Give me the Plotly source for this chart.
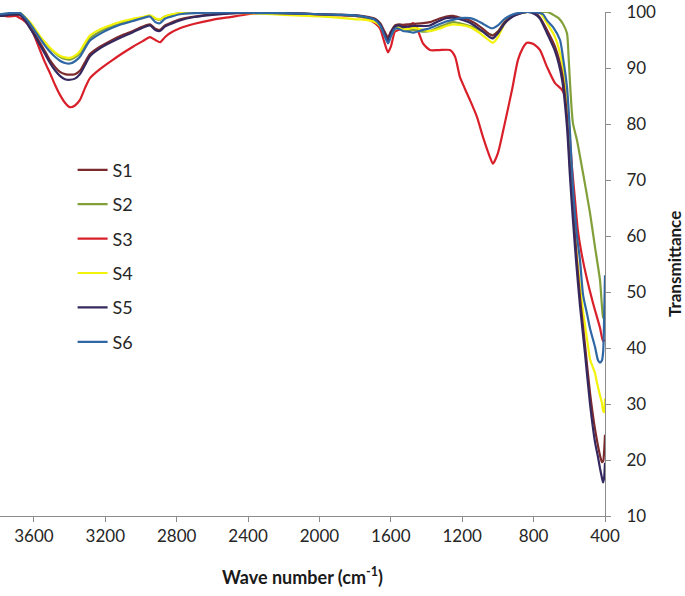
import plotly.graph_objects as go

# ---------------- data ----------------
wn_s1 = [3790, 3740, 3700, 3678, 3650, 3622, 3594, 3566, 3538, 3510, 3482, 3454, 3426, 3398, 3370, 3342, 3314, 3286, 3230, 3174, 3110, 3045, 2990, 2950, 2920, 2894, 2866, 2838, 2782, 2700, 2600, 2400, 2340, 2200, 2000, 1900, 1800, 1740, 1689, 1660, 1640, 1616, 1600, 1577, 1555, 1532, 1500, 1476, 1420, 1381, 1330, 1290, 1252, 1213, 1157, 1118, 1084, 1045, 1028, 1000, 961, 921, 888, 837, 792, 764, 725, 680, 641, 613, 596, 580, 562, 540, 512, 484, 456, 439, 428, 417, 410, 405, 400]
t_s1 = [99.3, 99.5, 99.5, 99.5, 98.6, 97.3, 96.0, 94.5, 93.0, 91.4, 90.2, 89.3, 88.9, 88.8, 88.9, 89.5, 91.0, 92.5, 93.8, 94.8, 95.8, 96.6, 97.4, 97.8, 97.0, 96.8, 97.6, 98.0, 98.7, 99.2, 99.6, 99.9, 99.9, 99.8, 99.6, 99.5, 99.4, 99.2, 98.8, 98.0, 96.8, 95.5, 96.5, 97.6, 97.8, 97.7, 97.8, 97.9, 98.0, 98.2, 98.8, 99.2, 99.3, 99.0, 98.5, 97.8, 97.0, 96.0, 95.8, 96.5, 98.2, 99.2, 99.6, 100.0, 99.8, 99.0, 96.8, 93.8, 89.1, 81.3, 72.3, 65.2, 57.5, 49.0, 40.5, 32.0, 25.5, 22.5, 20.8, 19.6, 19.8, 21.5, 24.5]

wn_s2 = [3790, 3740, 3700, 3678, 3650, 3622, 3594, 3566, 3538, 3510, 3482, 3454, 3426, 3398, 3370, 3342, 3314, 3286, 3230, 3174, 3110, 3045, 2990, 2950, 2920, 2894, 2866, 2838, 2782, 2700, 2600, 2400, 2340, 2200, 2000, 1900, 1800, 1740, 1689, 1660, 1640, 1616, 1600, 1577, 1555, 1532, 1500, 1476, 1420, 1381, 1330, 1290, 1252, 1213, 1157, 1118, 1084, 1045, 1028, 1000, 961, 921, 888, 837, 764, 725, 708, 680, 660, 636, 613, 604, 596, 580, 557, 523, 484, 456, 428, 411, 405, 400]
t_s2 = [99.6, 99.7, 99.9, 99.8, 99.0, 98.0, 96.8, 95.5, 94.5, 93.5, 92.7, 92.0, 91.6, 91.5, 91.9, 92.6, 94.0, 95.3, 96.5, 97.3, 98.0, 98.6, 99.0, 99.3, 98.8, 98.6, 99.2, 99.4, 99.8, 99.9, 100.0, 100.0, 99.9, 99.8, 99.6, 99.5, 99.3, 99.0, 98.6, 97.8, 96.5, 95.3, 96.0, 97.2, 97.3, 97.0, 96.8, 96.8, 96.5, 96.6, 97.3, 97.8, 98.2, 98.0, 97.5, 97.0, 96.5, 96.0, 95.9, 96.5, 98.3, 99.3, 99.7, 100.0, 100.0, 100.0, 99.8, 99.3, 98.9, 97.9, 96.2, 92.0, 87.3, 80.2, 77.1, 71.2, 64.1, 58.0, 52.1, 45.5, 45.2, 48.0]

wn_s3 = [3790, 3740, 3700, 3678, 3650, 3622, 3594, 3566, 3538, 3510, 3482, 3454, 3426, 3398, 3370, 3342, 3314, 3286, 3230, 3174, 3110, 3045, 2990, 2950, 2920, 2894, 2866, 2838, 2782, 2700, 2600, 2500, 2400, 2340, 2200, 2000, 1900, 1800, 1740, 1689, 1660, 1640, 1616, 1600, 1577, 1555, 1532, 1500, 1476, 1455, 1420, 1381, 1330, 1269, 1240, 1213, 1185, 1157, 1118, 1084, 1045, 1028, 1000, 961, 921, 888, 860, 837, 810, 792, 764, 725, 680, 641, 613, 596, 585, 568, 552, 529, 501, 467, 428, 411, 400]
t_s3 = [99.5, 99.2, 99.3, 98.9, 98.3, 97.3, 95.5, 93.2, 91.0, 89.1, 87.0, 85.2, 83.8, 83.0, 83.3, 84.3, 86.4, 88.2, 89.8, 91.1, 92.5, 93.8, 94.8, 95.5, 95.0, 94.6, 95.5, 96.2, 97.1, 97.9, 98.6, 99.1, 99.6, 99.8, 99.7, 99.5, 99.4, 99.3, 98.9, 98.0, 97.0, 95.0, 92.8, 93.8, 96.5, 96.8, 97.5, 97.4, 98.0, 97.2, 94.4, 93.2, 93.2, 93.2, 92.0, 88.4, 86.3, 84.3, 81.3, 77.7, 74.1, 72.9, 74.8, 80.2, 86.1, 91.4, 93.6, 94.5, 94.4, 94.1, 93.2, 90.2, 87.3, 86.1, 83.8, 77.1, 72.3, 66.4, 61.0, 56.5, 52.3, 48.0, 43.6, 41.2, 41.5]

wn_s4 = [3790, 3740, 3700, 3678, 3650, 3622, 3594, 3566, 3538, 3510, 3482, 3454, 3426, 3398, 3370, 3342, 3314, 3286, 3230, 3174, 3110, 3045, 2990, 2950, 2920, 2894, 2866, 2838, 2782, 2700, 2600, 2400, 2340, 2200, 2000, 1900, 1800, 1740, 1689, 1660, 1640, 1616, 1600, 1577, 1555, 1532, 1500, 1476, 1420, 1381, 1330, 1290, 1252, 1213, 1157, 1118, 1084, 1045, 1028, 1000, 961, 921, 888, 837, 764, 725, 680, 641, 613, 596, 580, 562, 540, 523, 500, 484, 456, 445, 428, 417, 411, 405, 400]
t_s4 = [99.4, 99.6, 99.8, 99.8, 99.1, 98.2, 97.0, 95.7, 94.6, 93.6, 92.8, 92.2, 91.9, 91.8, 92.2, 93.0, 94.5, 95.8, 96.9, 97.6, 98.3, 98.8, 99.1, 99.4, 98.9, 98.7, 99.2, 99.5, 99.8, 99.9, 99.9, 99.8, 99.7, 99.5, 99.2, 99.0, 98.7, 98.6, 98.2, 97.5, 96.4, 95.0, 95.8, 97.0, 97.2, 96.9, 97.0, 97.2, 96.8, 96.6, 97.0, 97.5, 97.8, 97.7, 97.3, 96.6, 95.8, 94.8, 94.5, 95.5, 98.0, 99.2, 99.7, 100.0, 99.8, 98.0, 95.5, 91.0, 84.0, 76.0, 67.0, 58.0, 51.0, 46.5, 41.5, 38.0, 35.5, 33.8, 31.5, 30.2, 28.8, 28.5, 31.0]

wn_s5 = [3790, 3740, 3700, 3678, 3650, 3622, 3594, 3566, 3538, 3510, 3482, 3454, 3426, 3398, 3370, 3342, 3314, 3286, 3230, 3174, 3110, 3045, 2990, 2950, 2920, 2894, 2866, 2838, 2782, 2700, 2600, 2400, 2340, 2200, 2000, 1900, 1800, 1740, 1689, 1660, 1640, 1616, 1600, 1577, 1555, 1532, 1500, 1476, 1420, 1381, 1330, 1290, 1252, 1213, 1157, 1118, 1084, 1045, 1028, 1000, 961, 921, 888, 837, 792, 764, 725, 680, 641, 613, 596, 580, 562, 540, 512, 484, 456, 439, 428, 417, 411, 405, 400]
t_s5 = [99.3, 99.5, 99.6, 99.5, 98.5, 97.1, 95.7, 94.1, 92.5, 90.9, 89.6, 88.6, 88.0, 87.9, 88.1, 88.9, 90.5, 92.1, 93.5, 94.5, 95.5, 96.4, 97.2, 97.6, 96.8, 96.6, 97.4, 97.8, 98.5, 99.1, 99.5, 99.9, 99.9, 99.8, 99.6, 99.5, 99.4, 99.1, 98.7, 97.8, 96.4, 94.9, 96.2, 97.4, 97.6, 97.3, 97.4, 97.5, 97.5, 97.6, 98.4, 98.9, 99.0, 98.7, 98.1, 97.3, 96.5, 95.5, 95.3, 96.2, 98.0, 99.1, 99.6, 100.0, 99.6, 98.8, 96.2, 93.0, 88.0, 79.5, 70.5, 63.0, 55.5, 47.5, 39.0, 30.0, 23.2, 20.5, 18.5, 16.8, 16.0, 16.8, 19.5]

wn_s6 = [3790, 3740, 3700, 3678, 3650, 3622, 3594, 3566, 3538, 3510, 3482, 3454, 3426, 3398, 3370, 3342, 3314, 3286, 3230, 3174, 3110, 3045, 2990, 2950, 2920, 2894, 2866, 2838, 2782, 2700, 2600, 2400, 2340, 2200, 2000, 1900, 1800, 1740, 1689, 1660, 1640, 1616, 1600, 1577, 1555, 1532, 1500, 1476, 1420, 1381, 1330, 1290, 1252, 1213, 1157, 1118, 1084, 1045, 1028, 1000, 961, 921, 888, 837, 764, 747, 725, 691, 652, 636, 613, 596, 580, 557, 540, 523, 500, 484, 456, 439, 428, 417, 410, 405, 400]
t_s6 = [99.6, 99.8, 99.9, 99.8, 99.0, 97.9, 96.6, 95.3, 94.0, 92.9, 92.0, 91.3, 90.9, 90.8, 91.2, 92.0, 93.5, 94.9, 96.1, 97.0, 97.8, 98.4, 98.9, 99.2, 98.2, 98.0, 98.8, 99.1, 99.6, 99.8, 99.9, 99.9, 99.8, 99.8, 99.6, 99.5, 99.4, 99.1, 98.6, 97.6, 96.1, 94.4, 95.6, 97.0, 97.0, 96.6, 96.5, 96.3, 96.8, 97.1, 97.8, 98.3, 98.6, 98.9, 98.9, 98.5, 97.9, 97.2, 97.1, 97.6, 98.8, 99.5, 99.8, 100.0, 99.8, 99.6, 98.5, 97.3, 95.0, 92.0, 86.6, 78.4, 68.8, 60.0, 55.7, 49.5, 46.0, 43.5, 40.2, 37.8, 37.4, 37.8, 39.5, 45.0, 53.0]

names = ["S1", "S2", "S3", "S4", "S5", "S6"]
colors = ["#7b2b2e", "#82a03a", "#d9202a", "#f2f20a", "#35285f", "#2f66a4"]
series = [(wn_s1, t_s1), (wn_s2, t_s2), (wn_s3, t_s3), (wn_s4, t_s4), (wn_s5, t_s5), (wn_s6, t_s6)]

x_ticks = [3600, 3200, 2800, 2400, 2000, 1600, 1200, 800, 400]
y_ticks = [10, 20, 30, 40, 50, 60, 70, 80, 90, 100]

# ---------------- figure ----------------
FONT = "Lato, 'Open Sans', sans-serif"
fig = go.Figure()
draw_order = [2, 1, 3, 0, 4, 5]
for i in draw_order:
    wn, t = series[i]
    fig.add_trace(go.Scatter(
        x=wn, y=t, mode="lines", name=names[i], legendrank=i + 1,
        legendgroup=names[i],
        line=dict(color=colors[i], width=2.2, shape="spline", smoothing=0.6),
    ))

fig.update_layout(
    width=685, height=596,
    margin=dict(l=0, r=80, t=12, b=80, autoexpand=False),
    paper_bgcolor="white", plot_bgcolor="white",
    font=dict(family=FONT, size=17, color="#262626"),
    showlegend=True,
    legend=dict(
        x=0.12, y=0.723, xanchor="left", yanchor="top",
        bgcolor="rgba(0,0,0,0)", font=dict(size=18, color="#262626"),
        tracegroupgap=8, itemwidth=30, traceorder="grouped",
    ),
    xaxis=dict(
        range=[3790, 400], tickvals=x_ticks, ticktext=[str(v) for v in x_ticks],
        automargin=False,
        showgrid=False, zeroline=False, showline=True, linecolor="#8c8c8c", linewidth=1,
        ticks="outside", ticklen=5, tickcolor="#8c8c8c",
        tickfont=dict(size=17, color="#262626"),
        title=dict(text="Wave number (cm<sup>-1</sup>)", font=dict(size=18, weight="bold", color="#1a1a1a"), standoff=25),
    ),
    yaxis=dict(
        range=[10, 100], side="right", tickvals=y_ticks, automargin=False,
        showgrid=False, zeroline=False, showline=True, linecolor="#8c8c8c", linewidth=1,
        ticks="outside", ticklen=5, tickcolor="#8c8c8c",
        tickfont=dict(size=17, color="#262626"), ticklabelstandoff=12,
    ),
    annotations=[dict(
        text="Transmittance", textangle=-90, xref="paper", yref="paper",
        x=1.0, xshift=69, y=0.5, xanchor="center", yanchor="middle", showarrow=False,
        font=dict(size=17, weight="bold", color="#1a1a1a"),
    )],
)

fig.write_html("out.html", config={"displayModeBar": False},
               post_script="document.body.style.margin='0';")
